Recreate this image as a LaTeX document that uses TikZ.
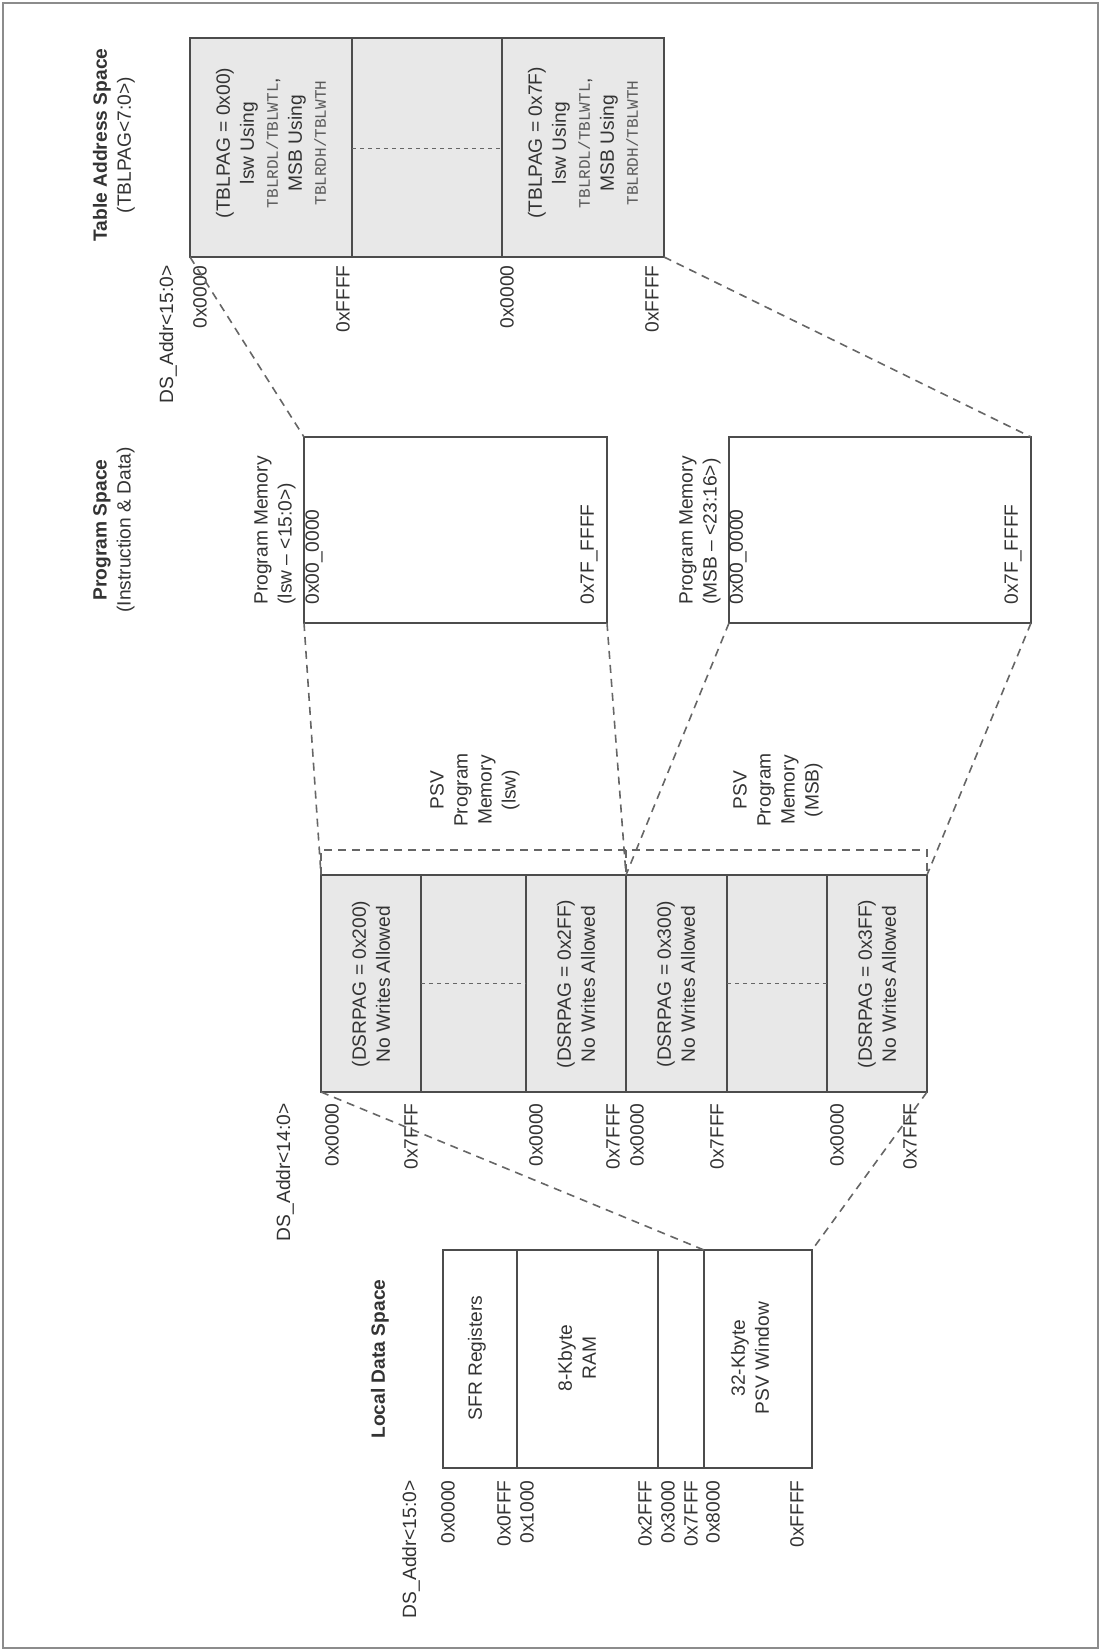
\documentclass[tikz,border=0pt]{standalone}
\usepackage{fontspec}
\setmainfont{Liberation Sans}
\newfontfamily\mono{Liberation Mono}
\begin{document}
\begin{tikzpicture}[x=0.5pt,y=-0.5pt,
  box/.style={draw=black!70,line width=0.6pt},
  gbox/.style={box,fill=black!9},
  conn/.style={draw=black!60,line width=0.8pt,dash pattern=on 4pt off 3pt},
  dotl/.style={draw=black!60,line width=0.5pt,dash pattern=on 2pt off 2pt},
  txt/.style={rotate=90,text=black!80,font=\fontsize{9.6}{12}\selectfont,inner sep=0pt},
  lab/.style={txt,anchor=east},
  hdr/.style={txt,align=center},
  tt/.style={font=\mono\fontsize{8}{12}\selectfont,text=black!65}]
\useasboundingbox (0,0) rectangle (1101,1651);
\draw[black!45,line width=0.8pt] (3,3) rectangle (1098,1648);

% ---------- Table address space ----------
\draw[gbox] (190,38) rectangle (664,257);
\draw[box] (352,38) -- (352,257) (502,38) -- (502,257);
\draw[dotl] (352,148) -- (502,148);
\coordinate (tbl) at (190,257); \coordinate (tbr) at (664,257);
\node[hdr] (th) at (114,145) {\textbf{Table Address Space}\\(TBLPAG<7:0>)};
\node[lab] (tds) at (168,265) {DS\_Addr<15:0>};
\node[lab] (t1) at (200,265) {0x0000};
\node[lab] (t2) at (343,265) {0xFFFF};
\node[lab] (t3) at (507,265) {0x0000};
\node[lab] (t4) at (652,265) {0xFFFF};
\node[hdr] (tc1) at (271,143) {(TBLPAG = 0x00)\\lsw Using\\{\mono\fontsize{8}{12}\selectfont\color{black!65}TBLRDL/TBLWTL},\\MSB Using\\{\mono\fontsize{8}{12}\selectfont\color{black!65}TBLRDH/TBLWTH}};
\node[hdr] (tc3) at (583,143) {(TBLPAG = 0x7F)\\lsw Using\\{\mono\fontsize{8}{12}\selectfont\color{black!65}TBLRDL/TBLWTL},\\MSB Using\\{\mono\fontsize{8}{12}\selectfont\color{black!65}TBLRDH/TBLWTH}};

% ---------- Program space ----------
\node[hdr] (ph) at (114,530) {\textbf{Program Space}\\(Instruction \& Data)};
\draw[box] (304,437) rectangle (607,623);
\draw[box] (729,437) rectangle (1031,623);
\coordinate (p1tl) at (304,437); \coordinate (p1bl) at (304,623); \coordinate (p1br) at (607,623);
\coordinate (p2tr) at (1031,437); \coordinate (p2bl) at (729,623); \coordinate (p2br) at (1031,623);
\node[txt,anchor=west,align=left] (pm1) at (275,605) {Program Memory\\(lsw -- <15:0>)};
\node[txt,anchor=west] (pa1) at (314,605) {0x00\_0000};
\node[txt,anchor=west] (pb1) at (589,605) {0x7F\_FFFF};
\node[txt,anchor=west,align=left] (pm2) at (700,605) {Program Memory\\(MSB -- <23:16>)};
\node[txt,anchor=west] (pa2) at (738,605) {0x00\_0000};
\node[txt,anchor=west] (pb2) at (1013,605) {0x7F\_FFFF};

% ---------- PSV ----------
\node[hdr] (psv1) at (475,790) {PSV\\Program\\Memory\\(lsw)};
\node[hdr] (psv2) at (778,790) {PSV\\Program\\Memory\\(MSB)};
\draw[conn,line width=0.6pt] (321,875) -- (321,850) -- (927,850) -- (927,875) (626,850) -- (626,875);
\draw[gbox] (321,875) rectangle (927,1092);
\draw[box] (421,875) -- (421,1092) (526,875) -- (526,1092) (727,875) -- (727,1092) (827,875) -- (827,1092);
\draw[box,line width=1pt] (626,875) -- (626,1092);
\draw[dotl] (421,983) -- (526,983) (727,983) -- (827,983);
\coordinate (dtl) at (321,875); \coordinate (dtm) at (626,875); \coordinate (dtr) at (927,875);
\coordinate (dbl) at (321,1092); \coordinate (dbr) at (927,1092);
\node[hdr] (d1) at (371,984) {(DSRPAG = 0x200)\\No Writes Allowed};
\node[hdr] (d3) at (576,984) {(DSRPAG = 0x2FF)\\No Writes Allowed};
\node[hdr] (d4) at (676,984) {(DSRPAG = 0x300)\\No Writes Allowed};
\node[hdr] (d6) at (877,984) {(DSRPAG = 0x3FF)\\No Writes Allowed};
\node[lab] (dds) at (285,1103) {DS\_Addr<14:0>};
\node[lab] (l1) at (332,1103) {0x0000};
\node[lab] (l2) at (411,1103) {0x7FFF};
\node[lab] (l3) at (536,1103) {0x0000};
\node[lab] (l4) at (613,1103) {0x7FFF};
\node[lab] (l5) at (637,1103) {0x0000};
\node[lab] (l6) at (717,1103) {0x7FFF};
\node[lab] (l7) at (837,1103) {0x0000};
\node[lab] (l8) at (910,1103) {0x7FFF};

% ---------- Local data space ----------
\draw[box] (443,1250) rectangle (812,1468);
\draw[box] (517,1250) -- (517,1468) (658,1250) -- (658,1468) (704,1250) -- (704,1468);
\coordinate (lpl) at (704,1250); \coordinate (lpr) at (812,1250);
\node[hdr] (lh) at (380,1359) {\textbf{Local Data Space}};
\node[hdr] (s1) at (477,1358) {SFR Registers};
\node[hdr] (s2) at (577,1358) {8-Kbyte\\RAM};
\node[hdr] (s3) at (750,1358) {32-Kbyte\\PSV Window};
\node[lab] (lds) at (411,1480) {DS\_Addr<15:0>};
\node[lab] (m1) at (448,1480) {0x0000};
\node[lab] (m2) at (504,1480) {0x0FFF};
\node[lab] (m3) at (527,1480) {0x1000};
\node[lab] (m4) at (645,1480) {0x2FFF};
\node[lab] (m5) at (668,1480) {0x3000};
\node[lab] (m6) at (691,1480) {0x7FFF};
\node[lab] (m7) at (713,1480) {0x8000};
\node[lab] (m8) at (797,1480) {0xFFFF};

% ---------- connectors ----------
\draw[conn] (tbl) -- (p1tl);
\draw[conn] (tbr) -- (p2tr);
\draw[conn] (p1bl) -- (dtl);
\draw[conn] (p1br) -- (dtm);
\draw[conn] (p2bl) -- (dtm);
\draw[conn] (p2br) -- (dtr);
\draw[conn] (dbl) -- (lpl);
\draw[conn] (dbr) -- (lpr);
\end{tikzpicture}
\end{document}
